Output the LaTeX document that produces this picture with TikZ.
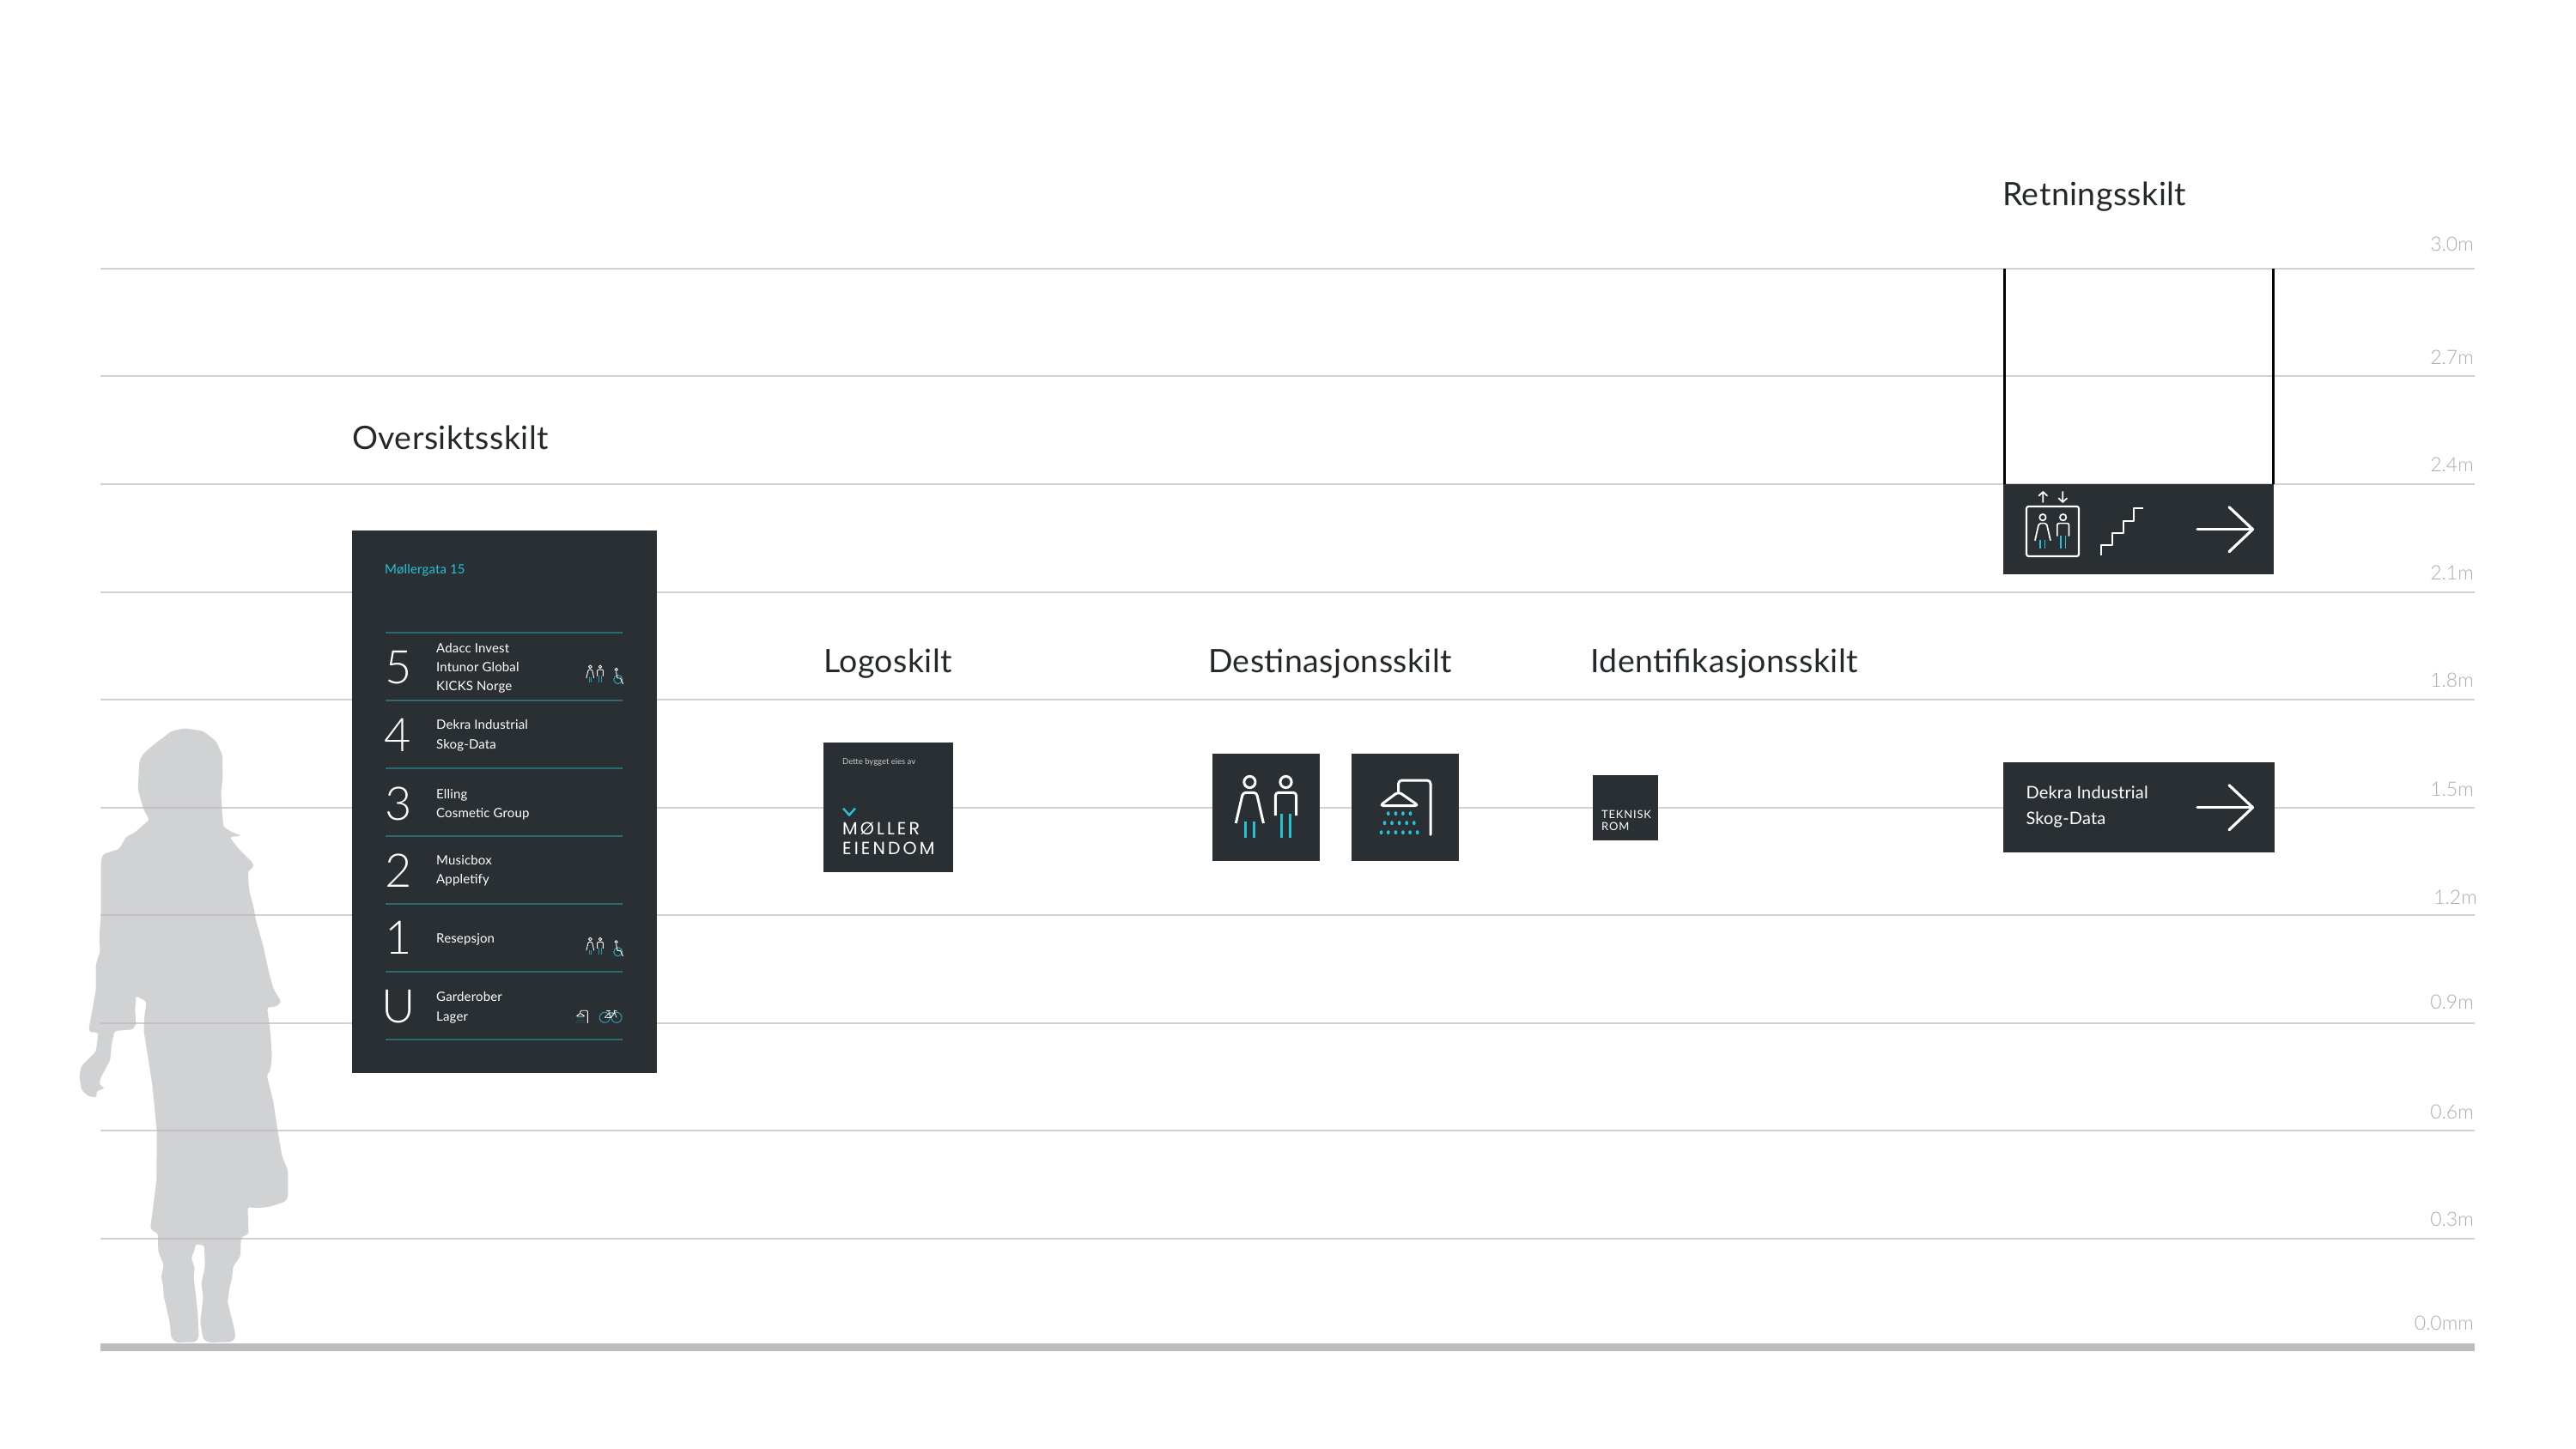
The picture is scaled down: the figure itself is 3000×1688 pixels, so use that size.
\documentclass[tikz,border=0pt]{standalone}
\usepackage{fontspec}
\setmainfont{Lato}
\newfontfamily\lightfont{Lato Light}
\newfontfamily\titlefont[LetterSpace=1.2]{Lato}
\newfontfamily\signfont[LetterSpace=1]{Lato}
\newfontfamily\logofont[LetterSpace=15]{Poppins}
\newfontfamily\tekfont[LetterSpace=6]{Lato}
\definecolor{signbg}{HTML}{292F32}
\definecolor{cyanc}{HTML}{25C3D6}
\definecolor{tealc}{HTML}{2C6A72}
\definecolor{iconteal}{HTML}{2A97A6}
\definecolor{titlec}{HTML}{23282B}
\definecolor{gridc}{HTML}{B9B9BC}
\definecolor{labelc}{HTML}{ABACAE}
\definecolor{personc}{HTML}{D1D2D4}
\definecolor{floorc}{HTML}{BBBCBF}
\tikzset{
  gridline/.style={draw=gridc,draw opacity=.65,line width=2pt},
  sign/.style={fill=signbg,draw=none},
  title/.style={anchor=base west,inner sep=0pt,text=titlec,font=\titlefont\fontsize{37.5}{37.5}\selectfont},
  mlabel/.style={anchor=base east,inner sep=0pt,text=labelc,font=\lightfont\fontsize{23}{23}\selectfont},
  stxt/.style={anchor=base west,inner sep=0pt,text=white,font=\signfont\fontsize{15}{15}\selectfont},
  digit/.style={anchor=base west,inner sep=0pt,text=white,font=\lightfont\fontsize{54}{54}\selectfont},
  rulel/.style={draw=tealc,line width=2pt},
  wl/.style={draw=white,line cap=round,line join=round},
}
\newcommand{\wcpair}[3]{%
  \draw[wl,line width=#1] (55.4,51) circle (6.6);
  \draw[wl,line width=#1,line cap=butt,rounded corners=#3] (39.3,99) -- (47.5,63.3) -- (63.3,63.3) -- (71.4,99);
  \draw[draw=#2,line width=#1] (50.4,97) -- (50.4,115.7) (60,97) -- (60,115.7);
  \draw[wl,line width=#1] (97.5,51) circle (6.6);
  \draw[wl,line width=#1,line cap=butt,rounded corners=#3] (85.4,90) -- (85.4,63.3) -- (109.6,63.3) -- (109.6,90);
  \draw[draw=#2,line width=#1] (92.9,88) -- (92.9,115.7) (102.5,88) -- (102.5,115.7);
}
\newcommand{\showerdraw}[3]{%
  \draw[wl,line width=#1,rounded corners=#3] (266,112.3) -- (266,49) -- (228.6,49) -- (228.6,62.3);
  \draw[wl,line width=#1,rounded corners=#3] (228.6,62.3) -- (207,78.5) -- (252,78.5) -- cycle;
  \foreach \xx in {216.8,225.4,233.9,242.5} \fill[#2] (\xx,87.7) ellipse (1.9 and 2.5);
  \foreach \xx in {212.5,221,229.6,238.2,246.8} \fill[#2] (\xx,98.7) ellipse (1.9 and 2.5);
  \foreach \xx in {208.6,216.8,225.4,233.9,242.1,250.7} \fill[#2] (\xx,109.7) ellipse (1.9 and 2.5);
}
\newcommand{\wheelchair}[1]{%
  \begin{scope}[shift={(0,#1)}]
    \draw[wl,line width=.9pt] (717.7,780) circle (1.7);
    \draw[draw=iconteal,line width=1.2pt] (719.8,791.5) circle (5);
    \draw[wl,line width=.9pt] (717.6,783) -- (719,790) -- (722.5,790) -- (725.5,796.5);
  \end{scope}
}
\newcommand{\bigarrow}[1]{%
  \draw[wl,line width=3.2pt] (2559,#1) -- (2623,#1);
  \draw[wl,line width=3.2pt,line cap=round] (2596,#1-26) -- (2623.5,#1) -- (2596,#1+26);
}
\begin{document}
\begin{tikzpicture}[x=1pt,y=-1pt]
\useasboundingbox (0,0) rectangle (3000,1688);
\fill[white] (0,0) rectangle (3000,1688);

% person
\begin{scope}[shift={(60,830)},scale=1/3]
\fill[personc,rounded corners=3pt]
 (465,55) -- (530,65) -- (575,100) -- (597,150) -- (598,230) -- (592,280) -- (597,360) -- (601,400) -- (630,418) -- (665,431) -- (622,435) -- (655,478) -- (705,527) -- (706,540) -- (686,555) -- (690,620) -- (705,675) -- (715,730) -- (738,810) -- (760,910) -- (775,965) -- (803,1012) -- (795,1015) -- (790,1027) -- (753,1030) -- (765,1120) -- (770,1200) -- (765,1250) -- (752,1268) -- (775,1360) -- (790,1460) -- (805,1550) -- (826,1600) -- (826,1695) -- (815,1710) -- (760,1728) -- (715,1732) -- (685,1728) -- (689,1822) -- (662,1835) -- (660,1900) -- (635,1935) -- (630,1980) -- (622,2010) -- (615,2060) -- (640,2160) -- (643,2185) -- (630,2200) -- (550,2202) -- (530,2190) -- (520,2130) -- (530,2040) -- (523,1995) -- (536,1940) -- (534,1862) -- (502,1858) -- (500,1880) -- (488,1905) -- (500,1940) -- (497,1975) -- (510,2090) -- (515,2180) -- (505,2200) -- (435,2202) -- (418,2185) -- (413,2130) -- (392,2040) -- (390,2000) -- (383,1975) -- (392,1930) -- (373,1885) -- (372,1822) -- (345,1805) -- (367,1635) -- (368,1460) -- (352,1300) -- (322,1110) -- (325,1060) -- (332,1010) -- (295,990) -- (292,1040) -- (295,1090) -- (285,1108) -- (220,1113) -- (210,1160) -- (205,1215) -- (170,1280) -- (168,1303) -- (188,1312) -- (155,1325) -- (160,1345) -- (130,1342) -- (105,1320) -- (97,1270) -- (105,1235) -- (155,1185) -- (160,1150) -- (163,1118) -- (135,1118) -- (130,1105) -- (137,1070) -- (155,970) -- (155,880) -- (170,835) -- (167,790) -- (173,700) -- (173,520) -- (180,495) -- (237,477) -- (260,435) -- (290,420) -- (342,375) -- (322,340) -- (302,270) -- (307,170) -- (320,145) -- (360,110) -- (420,65) -- cycle;
\end{scope}

% height grid
\foreach \yy in {312.5,438,564,689.5,815,940.5,1066,1192,1317,1443}
  \draw[gridline] (117,\yy) -- (2882,\yy);
\fill[floorc] (117,1564.5) rectangle (2882,1573.5);

% height labels
\node[mlabel] (m30) at (2881,292) {3.0m};
\node[mlabel] (m27) at (2881,424) {2.7m};
\node[mlabel] (m24) at (2881,549) {2.4m};
\node[mlabel] (m21) at (2881,675) {2.1m};
\node[mlabel] (m18) at (2881,800) {1.8m};
\node[mlabel] (m15) at (2881,927) {1.5m};
\node[mlabel] (m12) at (2885,1053) {1.2m};
\node[mlabel] (m09) at (2881,1175) {0.9m};
\node[mlabel] (m06) at (2881,1303) {0.6m};
\node[mlabel] (m03) at (2881,1428) {0.3m};
\node[mlabel] (m00) at (2881,1549) {0.0mm};

% section titles
\node[title] (tRet) at (2332,240) {Retningsskilt};
\node[title] (tOve) at (410,523) {Oversiktsskilt};
\node[title] (tLog) at (959,783) {Logoskilt};
\node[title] (tDes) at (1407,783) {Destinasjonsskilt};
\node[title] (tIde) at (1852,783) {Identifikasjonsskilt};

% overview sign
\fill[sign] (410,618) rectangle (765,1250);
\node[stxt,text=cyanc] (addr) at (448,668) {Møllergata 15};
\foreach \yy in {737,816,895,974,1053,1132,1211}
  \draw[rulel] (449,\yy) -- (725,\yy);
\node[digit] (d5) at (448,796) {5};
\node[digit] (d4) at (447,875) {4};
\node[digit] (d3) at (448,955) {3};
\node[digit] (d2) at (448,1033) {2};
\node[digit] (d1) at (448,1111) {1};
\node[digit] (dU) at (444,1191) {U};
\node[stxt] (e1) at (508,760) {Adacc Invest};
\node[stxt] (e2) at (508,782) {Intunor Global};
\node[stxt] (e3) at (508,804) {KICKS Norge};
\node[stxt] (e4) at (508,849) {Dekra Industrial};
\node[stxt] (e5) at (508,872) {Skog-Data};
\node[stxt] (e6) at (508,930) {Elling};
\node[stxt] (e7) at (508,952) {Cosmetic Group};
\node[stxt] (e8) at (508,1007) {Musicbox};
\node[stxt] (e9) at (508,1029) {Appletify};
\node[stxt] (e10) at (508,1098) {Resepsjon};
\node[stxt] (e11) at (508,1166) {Garderober};
\node[stxt] (e12) at (508,1189) {Lager};
\begin{scope}[shift={(672,762.6)},scale=.277]\wcpair{.9pt}{iconteal}{1pt}\end{scope}
\begin{scope}[shift={(672,1079.9)},scale=.277]\wcpair{.9pt}{iconteal}{1pt}\end{scope}
\wheelchair{0}
\wheelchair{317.3}
\begin{scope}[shift={(624.2,1166.2)},scale=.226]\showerdraw{.9pt}{iconteal}{1pt}\end{scope}
% bicycle
\draw[draw=iconteal,line width=1.1pt] (704.3,1185.3) circle (6) (718,1185.3) circle (6);
\draw[wl,line width=.7pt] (704.3,1185.3) -- (709.5,1180) -- (716,1180) -- (718,1185.3) (709.5,1180) -- (711.5,1185.5) -- (704.3,1185.3) (711.5,1185.5) -- (716,1180) (709.5,1180) -- (708.5,1177.5) (706.5,1177.5) -- (710.5,1177.5) (716,1180) -- (715,1177) -- (718.5,1178);

% logo sign
\fill[sign] (959,865) rectangle (1110,1016);
\node[anchor=base west,inner sep=0pt,text=white!75!signbg,font=\fontsize{9.5}{9.5}\selectfont] (lg0) at (981,890) {Dette bygget eies av};
\draw[draw=cyanc,line width=2.4pt] (982,941.7) -- (989,949.5) -- (996,941.7);
\node[anchor=base west,inner sep=0pt,text=white,font=\logofont\fontsize{20.5}{20.5}\selectfont] (lg1) at (981,972.7) {MØLLER};
\node[anchor=base west,inner sep=0pt,text=white,font=\logofont\fontsize{20.5}{20.5}\selectfont] (lg2) at (981,995) {EIENDOM};

% WC sign
\fill[sign] (1412,878.3) rectangle (1537,1003);
\begin{scope}[shift={(1400,860)}]\wcpair{3pt}{cyanc}{3.5pt}\end{scope}

% shower sign
\fill[sign] (1574,878.3) rectangle (1698.6,1003);
\begin{scope}[shift={(1400,860)}]\showerdraw{3pt}{cyanc}{4pt}\end{scope}

% technical room sign
\fill[sign] (1855,903) rectangle (1931,979);
\node[anchor=base west,inner sep=0pt,text=white,font=\tekfont\fontsize{13}{13}\selectfont] (tk1) at (1865,953.3) {TEKNISK};
\node[anchor=base west,inner sep=0pt,text=white,font=\tekfont\fontsize{13}{13}\selectfont] (tk2) at (1865,967.7) {ROM};

% hanging directional sign
\draw[black,line width=3pt] (2334.5,312.5) -- (2334.5,564) (2647.3,312.5) -- (2647.3,564);
\fill[sign] (2332.7,564) rectangle (2648.3,669);
\draw[wl,line width=2.2pt,rounded corners=2.5pt] (2360,590) rectangle (2421,648);
\begin{scope}[shift={(2347.8,574)},scale=.5625]\wcpair{1.7pt}{cyanc}{2pt}\end{scope}
\draw[wl,line width=1.7pt] (2379.3,585) -- (2379.3,573) (2374.5,577.5) -- (2379.3,573) -- (2384.1,577.5);
\draw[wl,line width=1.7pt] (2402.3,573) -- (2402.3,585) (2397.5,580.5) -- (2402.3,585) -- (2407.1,580.5);
\draw[wl,line width=2.2pt,line cap=butt] (2447,646.7) -- (2447,635) -- (2460,635) -- (2460,620.7) -- (2472.7,620.7) -- (2472.7,607.3) -- (2485,607.3) -- (2485,592.3) -- (2495.7,592.3);
\bigarrow{616.7}

% wall directional sign
\fill[sign] (2333,888) rectangle (2649,993);
\node[anchor=base west,inner sep=0pt,text=white,font=\signfont\fontsize{20}{20}\selectfont] (dk1) at (2359.3,930) {Dekra Industrial};
\node[anchor=base west,inner sep=0pt,text=white,font=\signfont\fontsize{20}{20}\selectfont] (dk2) at (2359.3,960) {Skog-Data};
\bigarrow{940.7}
\end{tikzpicture}
\end{document}
